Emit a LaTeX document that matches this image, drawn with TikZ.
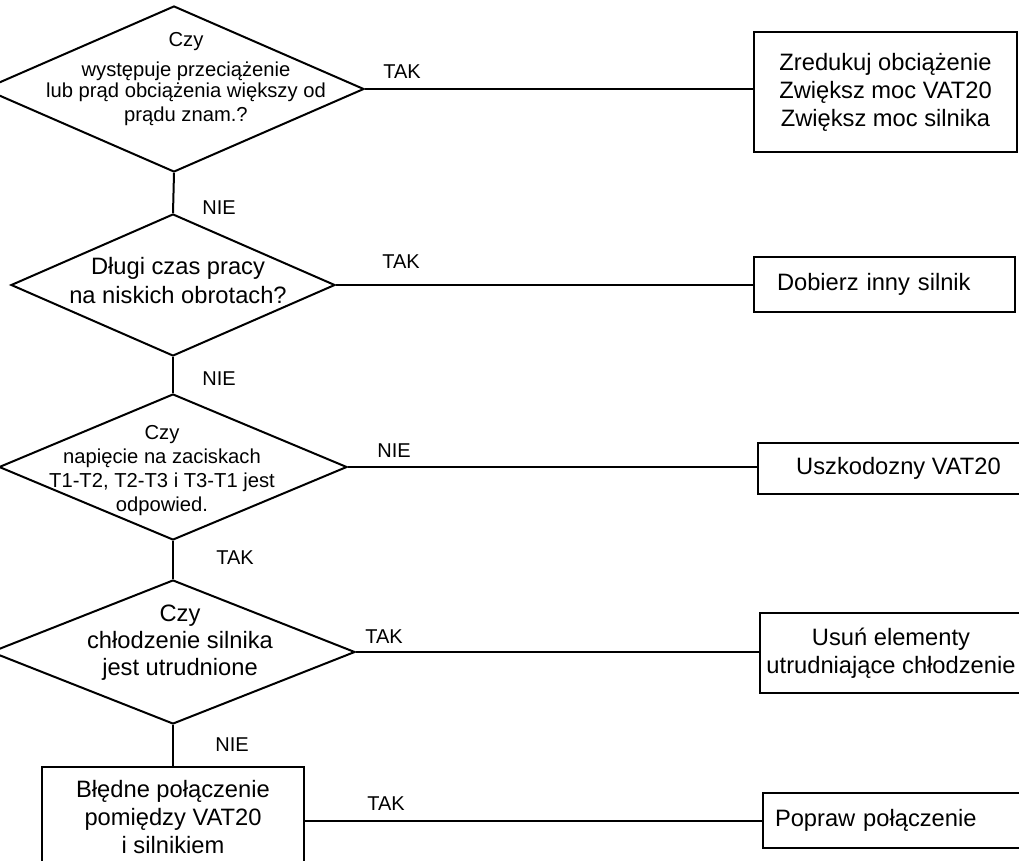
\documentclass[tikz,border=0pt]{standalone}
\usepackage{fontspec}
\setmainfont{Liberation Sans}
\usetikzlibrary{shapes.geometric}

\begin{document}
\begin{tikzpicture}[
        x=1pt, y=-1pt,
        question/.style={
            diamond,
            draw=black,
            line width=2pt,
            inner sep=0pt
        },
        answer/.style={
            rectangle,
            draw=black,
            line width=2pt,
            inner sep=0pt,
            align=center,
            font=\fontsize{23.7}{28}\selectfont
        },
        qtext/.style={
            anchor=north,
            align=center,
            inner sep=0pt,
            font=\fontsize{23.7}{28}\selectfont
        },
        qsmall/.style={
            font=\fontsize{20.2}{24}\selectfont
        },
        branch/.style={
            inner sep=0pt,
            font=\fontsize{20}{24}\selectfont
        },
        link/.style={line width=2pt}
    ]

    \useasboundingbox (0,0) rectangle (1019,861);

    % Pytania
    \node[question, minimum width=380pt, minimum height=166pt] (q1) at (174,89) {};
    \node[question, minimum width=324pt, minimum height=142pt] (q2) at (173,285) {};
    \node[question, minimum width=348pt, minimum height=146pt] (q3) at (173,467) {};
    \node[question, minimum width=364pt, minimum height=144pt] (q4) at (173,652) {};
    \node[answer, minimum width=262pt, minimum height=100pt] (b5) at (173,817)
        {Błędne połączenie\\pomiędzy VAT20\\i silnikiem};

    \node[qtext, qsmall] (q1t) at (186,32)
        {Czy\\[6pt]występuje przeciążenie\\[-3pt]lub prąd obciążenia większy od\\prądu znam.?};
    \node[qtext] (q2t) at (178,257) {Długi czas pracy\\[1pt]na niskich obrotach?};
    \node[qtext, qsmall] (q3t) at (162,425)
        {Czy\\napięcie na zaciskach\\T1-T2, T2-T3 i T3-T1 jest\\odpowied.};
    \node[qtext] (q4t) at (180,605) {Czy\\[-1pt]chłodzenie silnika\\[-1pt]jest utrudnione};

    % Odpowiedzi
    \node[answer, minimum width=263pt, minimum height=120pt] (a1) at (885.5,92)
        {Zredukuj obciążenie\\Zwiększ moc VAT20\\Zwiększ moc silnika};
    \node[answer, minimum height=55pt, text width=215pt, align=left, inner xsep=23pt]
        (a2) at (884.5,284.5) {Dobierz inny silnik};
    \node[answer, minimum width=281pt, minimum height=51pt] (a3) at (898.5,468.5)
        {Uszkodozny VAT20};
    \node[answer, minimum width=262pt, minimum height=80pt] (a4) at (891,653)
        {Usuń elementy\\utrudniające chłodzenie};
    \node[answer, minimum height=55pt, text width=256pt, align=left, inner xsep=12pt]
        (a5) at (903,820.5) {Popraw połączenie};

    % Opisy
    \node[branch] (n1) at (219,208) {NIE};
    \node[branch] (n2) at (219,379) {NIE};
    \node[branch] (n3) at (235,558) {TAK};
    \node[branch] (n4) at (232,745) {NIE};
    \node[branch] (t1) at (402,72)  {TAK};
    \node[branch] (t2) at (401,262) {TAK};
    \node[branch] (t3) at (394,451) {NIE};
    \node[branch] (t4) at (384,637) {TAK};
    \node[branch] (t5) at (386,804) {TAK};

    % Połączenia
    \draw[link] (q1.south) -- (q2.north);
    \draw[link] (q2.south) -- (q3.north);
    \draw[link] (q3.south) -- (q4.north);
    \draw[link] (q4.south) -- (b5.north);
    \draw[link] (q1.east) -- (q1.east -| a1.west);
    \draw[link] (q2.east) -- (q2.east -| a2.west);
    \draw[link] (q3.east) -- (q3.east -| a3.west);
    \draw[link] (q4.east) -- (q4.east -| a4.west);
    \draw[link] (b5.east |- a5.west) -- (a5.west);

\end{tikzpicture}
\end{document}
